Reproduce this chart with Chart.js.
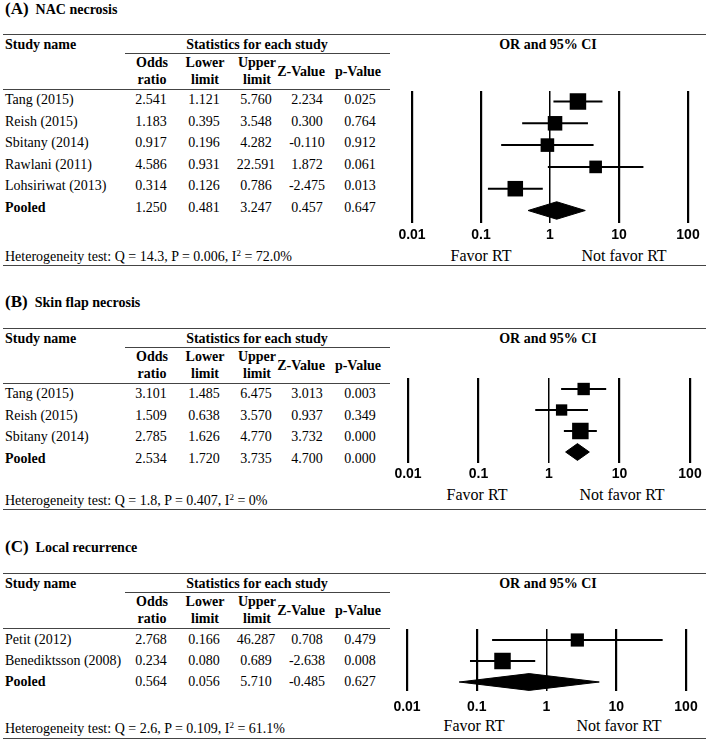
<!DOCTYPE html>
<html>
<head>
<meta charset="utf-8">
<script src="https://cdn.jsdelivr.net/npm/chart.js@4.4.1/dist/chart.umd.min.js"></script>
<style>
  body { margin: 0; background: #fff; }
  #fig { position: relative; width: 709px; height: 741px; overflow: hidden; background: #fff;
         font-family: "Liberation Serif", "Times New Roman", serif; font-size: 14px; color: #000; }
  .t { position: absolute; white-space: nowrap; transform: translate(0, -50%); }
  .c { transform: translate(-50%, -50%); }
  .b { font-weight: bold; }
  .rule { position: absolute; height: 0; border-top: 1.5px solid #444; }
  sup { font-size: 9px; vertical-align: 5px; line-height: 0; }
  canvas { position: absolute; }
</style>
</head>
<body>
<div id="fig"></div>
<script>
// axis ticks shared by the three forest plots
const TICKS = [0.01, 0.1, 1, 10, 100];

// (A) NAC necrosis
const A_STUDIES = ["Tang (2015)", "Reish (2015)", "Sbitany (2014)", "Rawlani (2011)", "Lohsiriwat (2013)", "Pooled"];
const A_OR = [2.541, 1.183, 0.917, 4.586, 0.314, 1.250];
const A_LOWER = [1.121, 0.395, 0.196, 0.931, 0.126, 0.481];
const A_UPPER = [5.760, 3.548, 4.282, 22.591, 0.786, 3.247];
const A_Z = [2.234, 0.300, -0.110, 1.872, -2.475, 0.457];
const A_P = [0.025, 0.764, 0.912, 0.061, 0.013, 0.647];
const A_WEIGHT = [25.5, 19.8, 17.3, 14.9, 22.6];
const A_HET = ["14.3", "0.006", "72.0%"];

// (B) Skin flap necrosis
const B_STUDIES = ["Tang (2015)", "Reish (2015)", "Sbitany (2014)", "Pooled"];
const B_OR = [3.101, 1.509, 2.785, 2.534];
const B_LOWER = [1.485, 0.638, 1.626, 1.720];
const B_UPPER = [6.475, 3.570, 4.770, 3.735];
const B_Z = [3.013, 0.937, 3.732, 4.700];
const B_P = [0.003, 0.349, 0.000, 0.000];
const B_WEIGHT = [27.6, 23.2, 49.2];
const B_HET = ["1.8", "0.407", "0%"];

// (C) Local recurrence
const C_STUDIES = ["Petit (2012)", "Benediktsson (2008)", "Pooled"];
const C_OR = [2.768, 0.234, 0.564];
const C_LOWER = [0.166, 0.080, 0.056];
const C_UPPER = [46.287, 0.689, 5.710];
const C_Z = [0.708, -2.638, -0.485];
const C_P = [0.479, 0.008, 0.627];
const C_WEIGHT = [39, 61];
const C_HET = ["2.6", "0.109", "61.1%"];

const fig = document.getElementById("fig");
const COLS = [151, 204, 256, 307, 360]; // centre of each stats column

function text(html, x, y, cls, style) {
  const d = document.createElement("div");
  d.className = "t " + (cls || "");
  d.style.left = x + "px";
  d.style.top = y + "px";
  d.innerHTML = html;
  if (style) Object.assign(d.style, style);
  fig.appendChild(d);
}

function rule(x1, x2, y) {
  const d = document.createElement("div");
  d.className = "rule";
  d.style.left = x1 + "px";
  d.style.width = (x2 - x1) + "px";
  d.style.top = y + "px";
  fig.appendChild(d);
}

function panel(letter, name, p, L) {
  // title + table
  text(`<span style="font-size:17px">(${letter})</span>&nbsp;&nbsp;${name}`, 5, L.title, "b");
  rule(3, 706, L.top);
  text("Study name", 5, L.top + 11, "b");
  text("Statistics for each study", 257, L.top + 11, "b c");
  text("OR and 95% CI", 548, L.top + 11, "b c");
  rule(125, 390, L.top + 18.5);
  text("Odds", COLS[0] + 1, L.top + 29, "b c");
  text("ratio", COLS[0] + 1, L.top + 46, "b c");
  text("Lower", COLS[1] + 1, L.top + 29, "b c");
  text("limit", COLS[1] + 1, L.top + 46, "b c");
  text("Upper", COLS[2] + 1, L.top + 29, "b c");
  text("limit", COLS[2] + 1, L.top + 46, "b c");
  text("Z-Value", 301, L.top + 38, "b c");
  text("p-Value", 358, L.top + 38, "b c");
  rule(3, 390, L.top + 55);

  p.studies.forEach((s, i) => {
    const y = L.row0 + i * L.gap;
    text(s, 5, y, i === p.studies.length - 1 ? "b" : "");
    [p.or[i], p.lower[i], p.upper[i], p.z[i], p.p[i]].forEach((v, k) => {
      text(v.toFixed(3), COLS[k], y, "c");
    });
  });

  text(`Heterogeneity test: Q = ${p.het[0]}, P = ${p.het[1]}, I<sup>2</sup> = ${p.het[2]}`, 5, L.het);
  rule(3, 706, L.hetLine);
  text("Favor RT", L.favorX[0], L.favorY, "c", { fontSize: "16px" });
  text("Not favor RT", L.favorX[1], L.favorY, "c", { fontSize: "16px" });

  forest(p, L);
}

function forest(p, L) {
  const left = 370, width = 339;
  const top = L.plotTop - 4;
  const height = L.tickY + 20 - top;
  const cv = document.createElement("canvas");
  cv.width = width;
  cv.height = height;
  cv.style.left = left + "px";
  cv.style.top = top + "px";
  fig.appendChild(cv);

  const n = p.or.length - 1; // last row is the pooled estimate
  const yMin = (L.plotTop - L.plotRow0) / L.plotGap;
  const yMax = (L.plotBottom - L.plotRow0) / L.plotGap;
  const tickPad = L.tickY - L.plotBottom - 8.4;
  const axisH = 16.8 + 2 * tickPad;
  const padBottom = height - (L.plotBottom - top) - axisH;
  const maxW = Math.max(...p.weight);

  const datasets = [];
  datasets.push({
    data: p.or.slice(0, n).map((v, i) => ({ x: v, y: i })),
    showLine: false,
    pointStyle: "rect",
    pointRadius: p.weight.map((w) => (16.5 * Math.sqrt(w / maxW)) / (2 * Math.SQRT1_2)),
    pointBackgroundColor: "#000",
    pointBorderWidth: 0,
    order: 0,
  });
  for (let i = 0; i < n; i++) {
    datasets.push({
      data: [{ x: p.lower[i], y: i }, { x: p.upper[i], y: i }],
      borderColor: "#000",
      borderWidth: 2,
      pointRadius: 0,
      order: 1,
    });
  }
  datasets.push({
    data: [
      { x: p.lower[n], y: n },
      { x: p.or[n], y: n - 0.4 },
      { x: p.upper[n], y: n },
      { x: p.or[n], y: n + 0.4 },
      { x: p.lower[n], y: n },
    ],
    borderColor: "#000",
    borderWidth: 1,
    backgroundColor: "#000",
    fill: "shape",
    pointRadius: 0,
    tension: 0,
    order: 0,
  });

  new Chart(cv, {
    type: "line",
    data: { datasets },
    options: {
      responsive: false,
      animation: false,
      layout: {
        autoPadding: false,
        padding: { left: L.x0 - left, right: left + width - L.x1, top: L.plotTop - top, bottom: padBottom },
      },
      plugins: { legend: { display: false }, tooltip: { enabled: false } },
      scales: {
        x: {
          type: "logarithmic",
          min: 0.01,
          max: 100,
          afterBuildTicks: (s) => { s.ticks = TICKS.map((v) => ({ value: v })); },
          grid: { color: "#000", lineWidth: (c) => (c.tick && c.tick.value === 1 ? 1.5 : 2.2), drawTicks: false },
          border: { display: false },
          ticks: {
            padding: tickPad,
            color: "#000",
            autoSkip: false,
            maxRotation: 0,
            font: { family: "Liberation Sans, Arial, sans-serif", size: 14, weight: "bold" },
            callback: (v) => String(v),
          },
        },
        y: { type: "linear", display: false, min: yMin, max: yMax, reverse: true },
      },
    },
  });
}

panel("A", "NAC necrosis",
  { studies: A_STUDIES, or: A_OR, lower: A_LOWER, upper: A_UPPER, z: A_Z, p: A_P, weight: A_WEIGHT, het: A_HET },
  { title: 9, top: 34, row0: 100, gap: 21.6, het: 257, hetLine: 265, plotTop: 91, plotBottom: 223,
    plotRow0: 101.5, plotGap: 21.8, x0: 412, x1: 688, tickY: 235, favorY: 256, favorX: [481, 624] });

panel("B", "Skin flap necrosis",
  { studies: B_STUDIES, or: B_OR, lower: B_LOWER, upper: B_UPPER, z: B_Z, p: B_P, weight: B_WEIGHT, het: B_HET },
  { title: 302, top: 328, row0: 394, gap: 21.5, het: 501, hetLine: 509, plotTop: 378, plotBottom: 463,
    plotRow0: 389, plotGap: 21, x0: 408, x1: 690, tickY: 474, favorY: 495, favorX: [477, 622] });

panel("C", "Local recurrence",
  { studies: C_STUDIES, or: C_OR, lower: C_LOWER, upper: C_UPPER, z: C_Z, p: C_P, weight: C_WEIGHT, het: C_HET },
  { title: 547, top: 573, row0: 640, gap: 21, het: 729, hetLine: 738, plotTop: 629, plotBottom: 691,
    plotRow0: 640, plotGap: 21, x0: 407, x1: 686, tickY: 707, favorY: 726, favorX: [474, 619] });
</script>
</body>
</html>
